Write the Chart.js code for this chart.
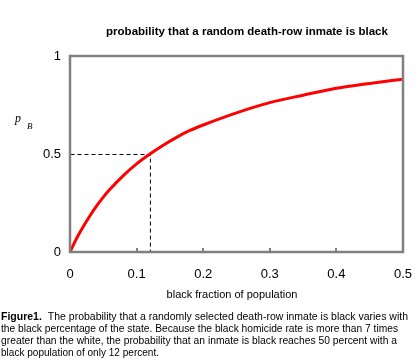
<!DOCTYPE html>
<html>
<head>
<meta charset="utf-8">
<script src="https://cdn.jsdelivr.net/npm/chart.js@4/dist/chart.umd.min.js"></script>
<style>
  html, body { margin: 0; padding: 0; background: #fff; }
  #wrap { width: 416px; height: 362px; }
</style>
</head>
<body>
<div id="wrap"><canvas id="chart-area" width="416" height="362"></canvas></div>
<script>
// black fraction of population (x) and probability inmate is black (y)
var fraction  = [0, 0.01, 0.02, 0.03, 0.04, 0.05, 0.06, 0.08, 0.10, 0.12, 0.14, 0.16, 0.18, 0.20, 0.25, 0.30, 0.35, 0.40, 0.45, 0.50];
var probBlack = [0, 0.07, 0.13, 0.185, 0.235, 0.28, 0.32, 0.39, 0.45, 0.50, 0.545, 0.585, 0.62, 0.648, 0.71, 0.762, 0.80, 0.835, 0.86, 0.882];

// dashed guide to the 50% point
var guideX = [0, 0.12, 0.12];
var guideY = [0.5, 0.5, 0];

var xTickValues = [0, 0.1, 0.2, 0.3, 0.4, 0.5];
var xTickLabels = ["0", "0.1", "0.2", "0.3", "0.4", "0.5"];
var yTickValues = [0, 0.5, 1];
var yTickLabels = ["0", "0.5", "1"];

var chartTitle = "probability that a random death-row inmate is black";
var xTitle = "black fraction of population";
var captionLead = "Figure1.";
var captionLines = [
    "The probability that a randomly selected death-row inmate is black varies with",
    "the black percentage of the state. Because the black homicide rate is more than 7 times",
    "greater than the white, the probability that an inmate is black reaches 50 percent with a",
    "black population of only 12 percent."
];

function toPoints(xs, ys) {
    var out = [];
    for (var i = 0; i < xs.length; i++) out.push({x: xs[i], y: ys[i]});
    return out;
}

var decor = {
    id: 'decor',
    beforeDatasetsDraw: function(chart) {
        var ctx = chart.ctx, a = chart.chartArea, xs = chart.scales.x;
        ctx.save();
        // inward tick marks on the bottom axis
        ctx.strokeStyle = '#808080';
        ctx.lineWidth = 2;
        xTickValues.slice(1, -1).forEach(function(v) {
            var px = Math.round(xs.getPixelForValue(v));
            ctx.beginPath();
            ctx.moveTo(px, a.bottom);
            ctx.lineTo(px, a.bottom - 4);
            ctx.stroke();
        });
        ctx.restore();
    },
    beforeDatasetDraw: function(chart, args) {
        // crisp 1px dashed guide
        if (args.index === 1) { chart.ctx.save(); chart.ctx.translate(0.5, 0.5); }
    },
    afterDatasetDraw: function(chart, args) {
        if (args.index === 1) chart.ctx.restore();
    },
    afterDraw: function(chart) {
        var ctx = chart.ctx, a = chart.chartArea;
        ctx.save();
        // grey frame
        ctx.strokeStyle = '#808080';
        ctx.lineWidth = 2.5;
        ctx.strokeRect(a.left, a.top, a.right - a.left, a.bottom - a.top);

        ctx.fillStyle = '#000';
        ctx.textBaseline = 'middle';

        // title
        ctx.textAlign = 'center';
        ctx.font = 'bold 11.5px "Liberation Sans", Arial, sans-serif';
        ctx.fillText(chartTitle, 247, 32, 283);

        // y axis label p_B
        ctx.textAlign = 'left';
        ctx.font = 'italic 12px "Liberation Serif", "Times New Roman", serif';
        ctx.fillText("p", 15, 119);
        ctx.font = 'italic 9px "Liberation Serif", "Times New Roman", serif';
        ctx.fillText("B", 27, 127);

        // x axis label
        ctx.textAlign = 'center';
        ctx.font = '11px "Liberation Sans", Arial, sans-serif';
        ctx.fillText(xTitle, 232, 295, 146);

        // caption
        ctx.textAlign = 'left';
        ctx.font = 'bold 10.5px "Liberation Sans", Arial, sans-serif';
        ctx.fillText(captionLead, 1, 317, 46);
        var lead = Math.min(ctx.measureText(captionLead).width, 46) + 6;
        ctx.font = '10.5px "Liberation Sans", Arial, sans-serif';
        var ends = [408, 398, 397, 159];
        var ys = [317, 329, 341, 353];
        for (var i = 0; i < captionLines.length; i++) {
            var x0 = i === 0 ? 1 + lead : 1;
            ctx.fillText(captionLines[i], x0, ys[i], ends[i] - x0);
        }
        ctx.restore();
    }
};

var config = {
    type: 'line',
    data: {
        datasets: [{
            data: toPoints(fraction, probBlack),
            borderColor: '#ff0000',
            borderWidth: 3,
            pointRadius: 0,
            cubicInterpolationMode: 'monotone',
            fill: false
        }, {
            data: toPoints(guideX, guideY),
            borderColor: '#000',
            borderWidth: 1,
            borderDash: [4, 3],
            pointRadius: 0,
            tension: 0,
            fill: false
        }]
    },
    options: {
        responsive: false,
        animation: false,
        events: [],
        layout: { padding: { left: 0, top: 56, right: 13, bottom: 0 } },
        plugins: { legend: { display: false }, title: { display: false }, tooltip: { enabled: false } },
        scales: {
            x: {
                type: 'linear',
                min: 0, max: 0.5,
                afterFit: function(s) { s.height = 110; s.paddingLeft = 0; s.paddingRight = 0; },
                afterBuildTicks: function(s) { s.ticks = xTickValues.map(function(v) { return {value: v}; }); },
                grid: { display: false, drawTicks: false },
                border: { display: false },
                ticks: {
                    padding: 15,
                    color: '#000',
                    font: { family: '"Liberation Sans", Arial, sans-serif', size: 13 },
                    callback: function(v, i) { return xTickLabels[i]; }
                }
            },
            y: {
                type: 'linear',
                min: 0, max: 1,
                afterFit: function(s) { s.width = 70; s.paddingTop = 0; s.paddingBottom = 0; },
                afterBuildTicks: function(s) { s.ticks = yTickValues.map(function(v) { return {value: v}; }); },
                grid: { display: false, drawTicks: false },
                border: { display: false },
                ticks: {
                    padding: 9,
                    color: '#000',
                    font: { family: '"Liberation Sans", Arial, sans-serif', size: 13 },
                    callback: function(v, i) { return yTickLabels[i]; }
                }
            }
        }
    },
    plugins: [decor]
};

var ctx = document.getElementById("chart-area").getContext("2d");
var chart = new Chart(ctx, config);
</script>
</body>
</html>
